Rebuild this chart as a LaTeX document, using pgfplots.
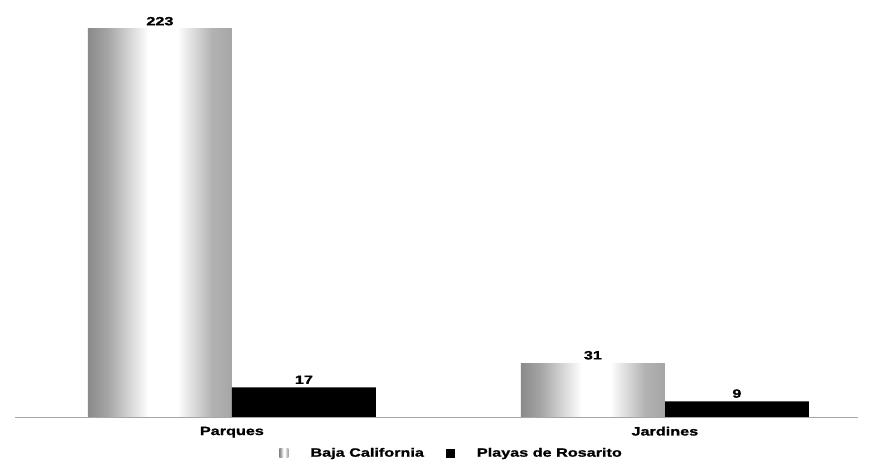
\documentclass[border=0pt]{standalone}
\usepackage{fontspec}
\setmainfont{Liberation Sans}[FakeStretch=1.35, BoldFeatures={FakeBold=1.2}]
\usepackage{pgfplots}
\pgfplotsset{compat=1.18}

\pgfdeclarehorizontalshading{baja}{100bp}{color(0bp)=(black!72); color(15bp)=(black!62); color(32bp)=(black!35); color(46bp)=(white); color(56bp)=(white); color(68bp)=(black!30); color(85bp)=(black!42); color(100bp)=(black!48)}

\begin{document}
\begin{tikzpicture}
\path[use as bounding box] (0,0) rectangle (872pt,468pt);
\begin{axis}[
    at={(15pt,51pt)}, anchor=south west,
    scale only axis, width=843pt, height=388pt,
    ybar, bar width=0.3326,
    xmin=-0.501, xmax=1.446, ymin=0, ymax=223,
    xtick={0,1}, xticklabels={\textbf{Parques}, \textbf{Jardines}},
    extra x ticks={0.5}, extra x tick labels={},
    extra x tick style={major tick length=4pt, tick style={gray}},
    xtick style={draw=none},
    ytick=\empty,
    axis x line*=bottom, axis y line=none,
    x axis line style={-, gray!70, line width=0.8pt},
    tick align=outside,
    /pgf/number format/assume math mode=true,
    xticklabel style={font=\bfseries\fontsize{12}{14}\selectfont, yshift=-2pt},
    nodes near coords,
    every node near coord/.append style={font=\bfseries\fontsize{12}{14}\selectfont, black},
    clip=false,
    legend style={draw=none, at={(0.518,-0.093)}, anchor=center,
        legend columns=-1, font=\bfseries\fontsize{12}{14}\selectfont,
        /tikz/every odd column/.append style={column sep=20pt},
        /tikz/every even column/.append style={column sep=20pt}},
    legend image code/.code={\draw[#1, draw=none] (0pt,-4.5pt) rectangle (9pt,4.5pt);},
]
\addplot[bar shift=-0.1663, draw=none, shade, shading=baja] coordinates {(0,223)};
\addplot[bar shift=0.1663, draw=none, fill=black] coordinates {(0,17) (1,9)};
\addplot[bar shift=-0.1663, draw=none, shade, shading=baja, forget plot] coordinates {(1,31)};
\legend{Baja California, Playas de Rosarito}
\end{axis}
\end{tikzpicture}
\end{document}
